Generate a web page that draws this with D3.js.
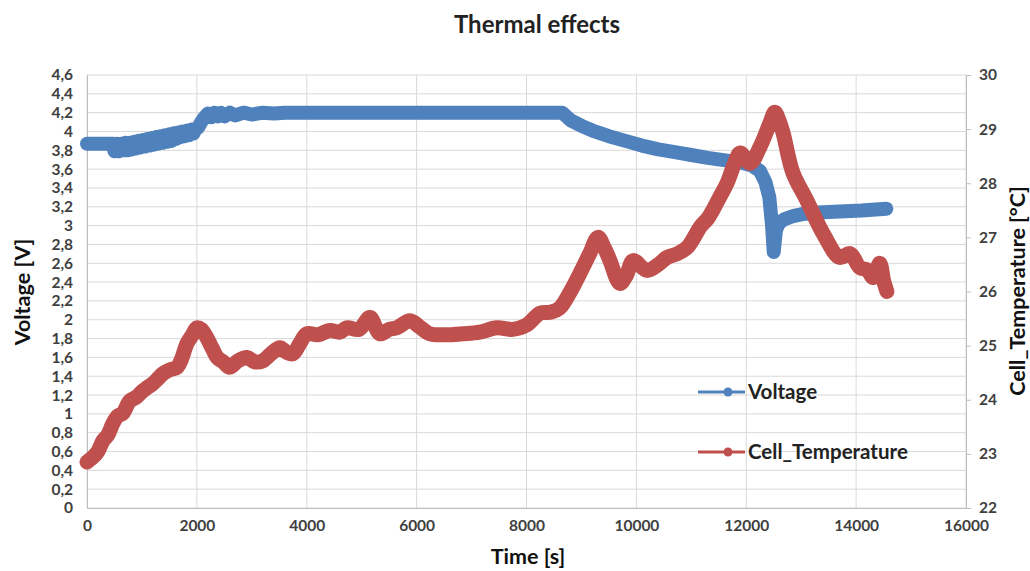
<!DOCTYPE html>
<html>

<head>
  <meta charset="utf-8">
  <title>Thermal effects</title>
  <style>
    body { margin: 0; background: #fff; }
    text { font-family: Lato, "Open Sans", sans-serif; }
  </style>
</head>

<body>
  <svg width="1030" height="571"></svg>
  <script src="https://d3js.org/d3.v7.min.js"></script>
  <script>
    // voltage series [time s, volts]
    var voltTime = [0, 200, 400, 470, 500, 540, 580, 620, 660, 700, 740, 780, 820, 860, 900, 940, 980,
      1020, 1060, 1100, 1140, 1180, 1220, 1260, 1300, 1340, 1380, 1420, 1460, 1500, 1540, 1580, 1620,
      1660, 1700, 1740, 1780, 1820, 1860, 1900, 1940, 1980, 2020, 2080, 2140, 2200, 2260, 2320, 2380,
      2440, 2500, 2600, 2700, 2850, 3000, 3200, 3400, 3600, 3800, 4500, 5500, 6500, 7500, 8400, 8650,
      8800, 9000, 9200, 9500, 9800, 10100, 10400, 10700, 11000, 11300, 11650, 11900, 12100, 12250, 12350,
      12420, 12470, 12500, 12540, 12600, 12700, 12850, 13000, 13300, 13700, 14100, 14550];
    var voltage = [3.87, 3.87, 3.87, 3.87, 3.79, 3.87, 3.79, 3.87, 3.8, 3.88, 3.8, 3.88, 3.81, 3.89, 3.82, 3.9, 3.83,
      3.91, 3.84, 3.92, 3.85, 3.93, 3.86, 3.94, 3.87, 3.95, 3.88, 3.96, 3.89, 3.97, 3.9, 3.98, 3.92,
      3.99, 3.94, 4.0, 3.95, 4.01, 3.96, 4.02, 3.98, 4.03, 4.04, 4.1, 4.15, 4.19, 4.15, 4.2, 4.16,
      4.2, 4.16, 4.2, 4.17, 4.2, 4.18, 4.2, 4.19, 4.2, 4.2, 4.2, 4.2, 4.2, 4.2, 4.2, 4.2,
      4.12, 4.06, 4.01, 3.95, 3.9, 3.85, 3.81, 3.78, 3.75, 3.72, 3.69, 3.67, 3.64, 3.58, 3.46,
      3.3, 3.0, 2.72, 2.95, 3.03, 3.07, 3.1, 3.12, 3.14, 3.15, 3.16, 3.18];

    // cell temperature series [time s, °C]
    var tempTime = [0, 120, 200, 290, 380, 470, 560, 650, 780, 900, 1000, 1090, 1200, 1300, 1380, 1500,
      1640, 1720, 1820, 1920, 2000, 2080, 2180, 2280, 2370, 2480, 2600, 2750, 2910, 3050, 3200, 3350,
      3510, 3630, 3750, 3880, 4000, 4200, 4420, 4600, 4730, 4950, 5150, 5330, 5500, 5640, 5880, 6050,
      6240, 6500, 6850, 7150, 7460, 7750, 8000, 8250, 8450, 8610, 8800, 8970, 9150, 9300, 9420, 9520,
      9700, 9820, 9940, 10190, 10400, 10560, 10750, 10920, 11050, 11160, 11300, 11390, 11520, 11650,
      11780, 11890, 12070, 12250, 12430, 12520, 12600, 12670, 12850, 13100, 13400, 13700, 13890, 14070,
      14200, 14310, 14430, 14500, 14560];
    var temperature = [22.85, 22.95, 23.05, 23.24, 23.35, 23.56, 23.7, 23.75, 23.98, 24.05, 24.15, 24.22, 24.3, 24.4, 24.48, 24.55,
      24.6, 24.75, 25.04, 25.2, 25.33, 25.3, 25.15, 24.95, 24.78, 24.7, 24.6, 24.72, 24.78, 24.7, 24.72, 24.85,
      24.96, 24.88, 24.85, 25.05, 25.22, 25.2, 25.28, 25.25, 25.33, 25.3, 25.52, 25.22, 25.3, 25.33, 25.46, 25.35,
      25.22, 25.2, 25.22, 25.25, 25.33, 25.3, 25.38, 25.6, 25.62, 25.7, 26.0, 26.33, 26.7, 27.0, 26.8, 26.57,
      26.15, 26.3, 26.57, 26.39, 26.5, 26.63, 26.7, 26.81, 27.0, 27.19, 27.35, 27.5, 27.75, 28.0,
      28.35, 28.56, 28.37, 28.67, 29.11, 29.31, 29.15, 28.93, 28.19, 27.69, 27.07, 26.63, 26.7, 26.44,
      26.4, 26.26, 26.52, 26.2, 26.0];

    var seriesNames = ["Voltage", "Cell_Temperature"];
    var colors = ["#4f81bd", "#c0504d"];

    var voltTicks = d3.range(0, 4.61, 0.2);
    var tempTicks = d3.range(22, 30.1, 1);
    var timeTicks = d3.range(0, 16001, 2000);

    var svg = d3.select("svg");
    var plotL = 87, plotR = 966, plotT = 75, plotB = 508;

    var x = d3.scaleLinear().domain([0, 16000]).range([plotL, plotR]);
    var yV = d3.scaleLinear().domain([0, 4.6]).range([plotB, plotT]);
    var yT = d3.scaleLinear().domain([22, 30]).range([plotB, plotT]);

    // grid
    svg.append("g").selectAll("line").data(voltTicks).join("line")
      .attr("x1", plotL).attr("x2", plotR)
      .attr("y1", d => yV(d)).attr("y2", d => yV(d))
      .attr("stroke", "#d9d9d9").attr("stroke-width", 1);
    svg.append("g").selectAll("line").data(timeTicks).join("line")
      .attr("x1", d => x(d)).attr("x2", d => x(d))
      .attr("y1", plotT).attr("y2", plotB)
      .attr("stroke", "#d9d9d9").attr("stroke-width", 1);

    // axes
    var fmt = d => d3.format(".1~f")(d).replace(".", ",");
    var gL = svg.append("g").attr("transform", "translate(" + plotL + ",0)")
      .call(d3.axisLeft(yV).tickValues(voltTicks).tickFormat(fmt).tickSize(0).tickPadding(14));
    var gR = svg.append("g").attr("transform", "translate(" + plotR + ",0)")
      .call(d3.axisRight(yT).tickValues(tempTicks).tickFormat(d3.format("d")).tickSize(5).tickPadding(8));
    var gB = svg.append("g").attr("transform", "translate(0," + plotB + ")")
      .call(d3.axisBottom(x).tickValues(timeTicks).tickFormat(d3.format("d")).tickSize(0).tickPadding(12));

    [gL, gR, gB].forEach(g => {
      g.select(".domain").attr("stroke", "#bfbfbf");
      g.selectAll(".tick line").attr("stroke", "#bfbfbf");
      g.selectAll("text").attr("font-size", 15.5).attr("font-weight", "bold").attr("fill", "#404040")
        .style("font-family", "Lato, sans-serif");
    });

    // series
    var voltPts = voltTime.map((t, i) => [t, voltage[i]]);
    var tempPts = tempTime.map((t, i) => [t, temperature[i]]);

    svg.append("path")
      .attr("d", d3.line().x(d => x(d[0])).y(d => yV(d[1]))(voltPts))
      .attr("fill", "none").attr("stroke", colors[0]).attr("stroke-width", 14)
      .attr("stroke-linejoin", "round").attr("stroke-linecap", "round");

    svg.append("path")
      .attr("d", d3.line().x(d => x(d[0])).y(d => yT(d[1])).curve(d3.curveCatmullRom)(tempPts))
      .attr("fill", "none").attr("stroke", colors[1]).attr("stroke-width", 15)
      .attr("stroke-linejoin", "round").attr("stroke-linecap", "round");

    // legend
    var legend = svg.append("g").selectAll("g").data(seriesNames).join("g")
      .attr("transform", (d, i) => "translate(698," + (392 + i * 60) + ")");
    legend.append("line").attr("x1", 0).attr("x2", 47)
      .attr("stroke", (d, i) => colors[i]).attr("stroke-width", 3);
    legend.append("circle").attr("cx", 30).attr("r", 4.5).attr("fill", (d, i) => colors[i]);
    legend.append("text").attr("x", 50).attr("y", 7).text(d => d)
      .attr("font-size", 20.5).attr("font-weight", "bold").attr("fill", "#222");

    // titles
    svg.append("text").attr("x", 537).attr("y", 33).attr("text-anchor", "middle")
      .attr("font-size", 24).attr("font-weight", "bold").attr("fill", "#222").text("Thermal effects");
    svg.append("text").attr("x", 528).attr("y", 564).attr("text-anchor", "middle")
      .attr("font-size", 21.5).attr("font-weight", "bold").attr("fill", "#111").text("Time [s]");
    svg.append("text").attr("transform", "translate(30,292) rotate(-90)").attr("text-anchor", "middle")
      .attr("font-size", 21.5).attr("font-weight", "bold").attr("fill", "#111").text("Voltage [V]");
    svg.append("text").attr("transform", "translate(1025,291) rotate(-90)").attr("text-anchor", "middle")
      .attr("font-size", 21.5).attr("font-weight", "bold").attr("fill", "#111").text("Cell_Temperature [°C]");
  </script>
</body>

</html>
